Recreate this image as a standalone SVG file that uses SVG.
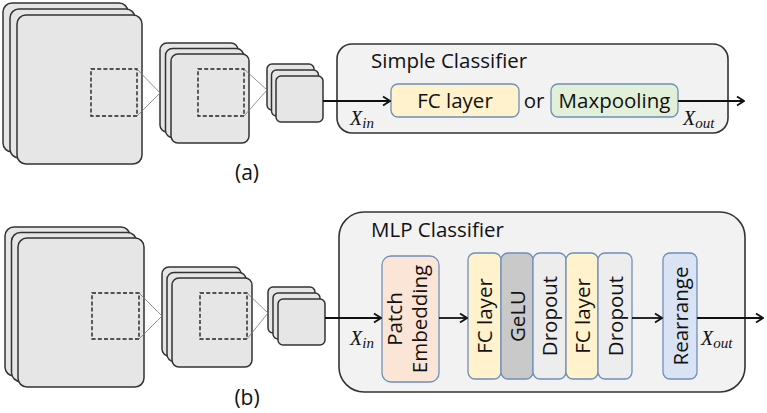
<svg xmlns="http://www.w3.org/2000/svg" width="767" height="413" viewBox="0 0 767 413">
<style>
.fm{fill:#e6e6e6;stroke:#333;stroke-width:1.5}
.ds{fill:none;stroke:#222;stroke-width:1.4;stroke-dasharray:4 2.2}
.th{fill:none;stroke:#777;stroke-width:0.8}
.cls{fill:#f2f2f2;stroke:#333;stroke-width:1.6}
.blk{stroke:#6f8fb8;stroke-width:1.3}
.t{font-family:"Open Sans","Noto Sans",sans-serif;fill:#111}
.m{font-family:"Liberation Serif",serif;font-style:italic;fill:#111}
.ar{fill:none;stroke:#111;stroke-width:1.8}
</style>
<defs>
<marker id="ah" viewBox="0 0 12 12" refX="11" refY="6" markerWidth="12" markerHeight="12" markerUnits="userSpaceOnUse" orient="auto">
<path d="M4,1.5 L11,6 L4,10.5" fill="none" stroke="#111" stroke-width="1.8"/>
</marker>
</defs>

<g id="stack-a">
<rect class="fm" x="3" y="3" width="125" height="149" rx="9"/>
<rect class="fm" x="10" y="9" width="125" height="149" rx="9"/>
<rect class="fm" x="17" y="15" width="125" height="149" rx="9"/>
<rect class="ds" x="91" y="69" width="46" height="47"/>
<rect class="fm" x="160" y="43" width="78" height="89" rx="7"/>
<rect class="fm" x="165.5" y="48.5" width="78" height="89" rx="7"/>
<rect class="fm" x="171" y="54" width="78" height="89" rx="7"/>
<rect class="ds" x="198" y="69" width="46" height="47"/>
<rect class="fm" x="267" y="64" width="47" height="46" rx="5"/>
<rect class="fm" x="271.5" y="70" width="47" height="46" rx="5"/>
<rect class="fm" x="276" y="76" width="47" height="46" rx="5"/>
<path class="th" d="M137,69 L160,93 L137,116 M244,69 L267,90 L244,116"/>
<text class="t" x="247" y="180" font-size="21" text-anchor="middle">(a)</text>
</g>

<g id="simple-classifier">
<rect class="cls" x="337" y="44" width="391" height="89" rx="15"/>
<text class="t" x="371" y="68" font-size="20.5">Simple Classifier</text>
</g>
<g id="fc-a">
<rect class="blk" x="391" y="84" width="128" height="33" rx="7" fill="#fff2cc"/>
<text class="t" x="455" y="108" font-size="20.5" text-anchor="middle">FC layer</text>
</g>
<text class="t" x="534" y="108" font-size="20.5" text-anchor="middle">or</text>
<g id="maxpool-a">
<rect class="blk" x="551" y="84" width="127" height="33" rx="7" fill="#e2f0d9"/>
<text class="t" x="614.5" y="108" font-size="20.5" text-anchor="middle">Maxpooling</text>
</g>
<text class="m" x="350" y="125" font-size="20">X<tspan font-size="15" dy="3">in</tspan></text>
<text class="m" x="683" y="125" font-size="20">X<tspan font-size="15" dy="3">out</tspan></text>

<g id="stack-b">
<rect class="fm" x="5" y="227" width="125" height="149" rx="9"/>
<rect class="fm" x="11.5" y="232.5" width="125" height="149" rx="9"/>
<rect class="fm" x="18" y="238" width="126" height="149" rx="9"/>
<rect class="ds" x="92" y="293" width="47" height="46"/>
<rect class="fm" x="162" y="267" width="79" height="89" rx="7"/>
<rect class="fm" x="167" y="272.5" width="79" height="89" rx="7"/>
<rect class="fm" x="172" y="278" width="80" height="89" rx="7"/>
<rect class="ds" x="200" y="293" width="47" height="46"/>
<rect class="fm" x="268" y="287" width="47" height="46" rx="5"/>
<rect class="fm" x="273" y="293" width="47" height="46" rx="5"/>
<rect class="fm" x="278" y="299" width="47" height="46" rx="5"/>
<path class="th" d="M139,293 L162,316 L139,339 M247,293 L268,313 L247,339"/>
<text class="t" x="247" y="405" font-size="21" text-anchor="middle">(b)</text>
</g>

<g id="mlp-classifier">
<rect class="cls" x="339" y="212" width="406" height="180" rx="25"/>
<text class="t" x="371" y="237" font-size="20.5">MLP Classifier</text>
</g>
<g id="patch-emb">
<rect class="blk" x="382" y="256" width="57" height="126" rx="9" fill="#fbe5d6"/>
<text class="t" font-size="20.5" text-anchor="middle" transform="translate(408,319) rotate(-90)"><tspan x="0" y="-6">Patch</tspan><tspan x="0" y="19">Embedding</tspan></text>
</g>
<g id="fc1">
<rect class="blk" x="468" y="253" width="33" height="126" rx="7" fill="#fff2cc"/>
<text class="t" font-size="20.5" text-anchor="middle" transform="translate(492,316) rotate(-90)">FC layer</text>
</g>
<g id="gelu">
<rect class="blk" x="501" y="253" width="32" height="126" rx="7" fill="#c9c9c9"/>
<text class="t" font-size="20.5" text-anchor="middle" transform="translate(524.5,316) rotate(-90)">GeLU</text>
</g>
<g id="drop1">
<rect class="blk" x="533" y="253" width="33" height="126" rx="7" fill="#ededed"/>
<text class="t" font-size="20.5" text-anchor="middle" transform="translate(557,316) rotate(-90)">Dropout</text>
</g>
<g id="fc2">
<rect class="blk" x="566" y="253" width="32" height="126" rx="7" fill="#fff2cc"/>
<text class="t" font-size="20.5" text-anchor="middle" transform="translate(589.5,316) rotate(-90)">FC layer</text>
</g>
<g id="drop2">
<rect class="blk" x="598" y="253" width="34" height="126" rx="7" fill="#ededed"/>
<text class="t" font-size="20.5" text-anchor="middle" transform="translate(622.5,316) rotate(-90)">Dropout</text>
</g>
<g id="rearrange">
<rect class="blk" x="663" y="253" width="34" height="126" rx="7" fill="#dae3f3"/>
<text class="t" font-size="20.5" text-anchor="middle" transform="translate(687.5,316) rotate(-90)">Rearrange</text>
</g>
<text class="m" x="350" y="345" font-size="20">X<tspan font-size="15" dy="3">in</tspan></text>
<text class="m" x="701" y="345" font-size="20">X<tspan font-size="15" dy="3">out</tspan></text>

<g id="connectors">
<path class="ar" d="M323,101 L390,101" marker-end="url(#ah)"/>
<path class="ar" d="M678,101 L744,101" marker-end="url(#ah)"/>
<path class="ar" d="M325,318 L381,318" marker-end="url(#ah)"/>
<path class="ar" d="M439,318 L467,318" marker-end="url(#ah)"/>
<path class="ar" d="M632,318 L662,318" marker-end="url(#ah)"/>
<path class="ar" d="M697,318 L763,318" marker-end="url(#ah)"/>
</g>
</svg>
